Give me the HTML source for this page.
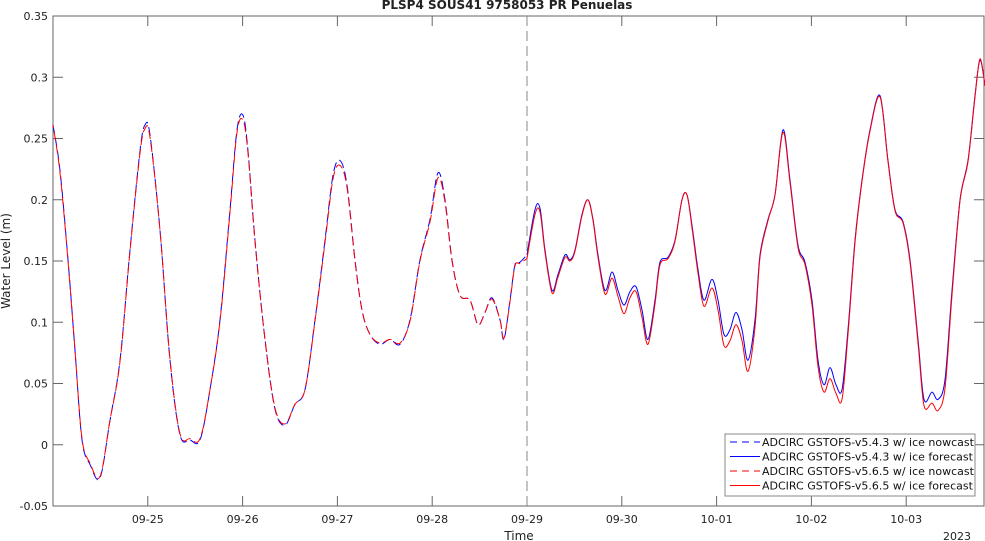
<!DOCTYPE html>
<html><head><meta charset="utf-8"><style>
html,body{margin:0;padding:0;background:#fff;}
svg{display:block;font-family:"DejaVu Sans","Liberation Sans",sans-serif;}
</style></head><body>
<svg id="chart" width="985" height="541" viewBox="0 0 985 541" xmlns="http://www.w3.org/2000/svg">
<rect x="0" y="0" width="985" height="541" fill="#fff"/>
<text x="507" y="9" text-anchor="middle" font-size="12" font-weight="bold" fill="#222">PLSP4 SOUS41 9758053 PR Penuelas</text>
<text transform="translate(10,261) rotate(-90)" text-anchor="middle" font-size="12" fill="#222">Water Level (m)</text>
<text x="519" y="540" text-anchor="middle" font-size="12" fill="#222">Time</text>
<text x="957" y="540" text-anchor="middle" font-size="11" fill="#222">2023</text>
<g id="axes"></g>
<g id="series"></g>
<g id="legend"></g>
</svg>
<script>
const xTickLabels = ["09-25","09-26","09-27","09-28","09-29","09-30","10-01","10-02","10-03"];
const yTickValues = [-0.05,0,0.05,0.1,0.15,0.2,0.25,0.3,0.35];
const yTickLabels = ["-0.05","0","0.05","0.1","0.15","0.2","0.25","0.3","0.35"];
const nowTimes = [0,0.074,0.158,0.232,0.306,0.39,0.496,0.601,0.707,0.812,0.918,0.97,1.023,1.129,1.234,1.34,1.445,1.551,1.656,1.762,1.867,1.941,2.004,2.057,2.131,2.236,2.342,2.447,2.553,2.658,2.764,2.869,2.954,3.027,3.101,3.186,3.259,3.344,3.449,3.555,3.66,3.766,3.871,3.977,4.061,4.135,4.209,4.293,4.399,4.483,4.557,4.631,4.715,4.757,4.821,4.873,4.926,5.0];
const nowBlue = [0.261,0.224,0.151,0.077,0.004,-0.016,-0.027,0.020,0.069,0.159,0.240,0.261,0.253,0.175,0.069,0.008,0.004,0.004,0.045,0.102,0.192,0.257,0.269,0.240,0.167,0.086,0.029,0.016,0.033,0.045,0.102,0.167,0.220,0.232,0.212,0.151,0.110,0.090,0.082,0.086,0.082,0.102,0.151,0.184,0.222,0.200,0.151,0.122,0.118,0.098,0.108,0.120,0.102,0.086,0.118,0.147,0.149,0.155];
const nowRed = [0.261,0.222,0.150,0.077,0.005,-0.015,-0.026,0.020,0.068,0.158,0.238,0.258,0.251,0.175,0.070,0.009,0.005,0.005,0.045,0.101,0.190,0.255,0.265,0.238,0.166,0.086,0.030,0.017,0.033,0.045,0.101,0.165,0.217,0.228,0.210,0.150,0.110,0.090,0.083,0.086,0.083,0.101,0.150,0.182,0.218,0.198,0.150,0.122,0.118,0.098,0.108,0.119,0.102,0.087,0.117,0.146,0.148,0.152];
const fcTimes = [5.0,5.084,5.137,5.19,5.264,5.327,5.401,5.454,5.506,5.58,5.643,5.696,5.749,5.823,5.897,5.96,6.023,6.086,6.15,6.213,6.276,6.35,6.403,6.487,6.561,6.635,6.688,6.741,6.804,6.867,6.951,7.015,7.078,7.141,7.205,7.268,7.331,7.405,7.458,7.542,7.616,7.70,7.774,7.859,7.932,8.006,8.07,8.133,8.196,8.259,8.323,8.386,8.46,8.534,8.618,8.724,8.808,8.882,8.966,9.04,9.125,9.188,9.272,9.335,9.409,9.483,9.568,9.652,9.726,9.778,9.831];
const fcBlue = [0.155,0.192,0.193,0.159,0.126,0.139,0.155,0.151,0.159,0.188,0.200,0.184,0.155,0.126,0.141,0.126,0.114,0.125,0.129,0.110,0.086,0.118,0.149,0.153,0.167,0.200,0.204,0.179,0.143,0.118,0.135,0.118,0.090,0.094,0.108,0.094,0.069,0.102,0.155,0.184,0.204,0.257,0.216,0.163,0.149,0.118,0.069,0.049,0.063,0.049,0.045,0.094,0.167,0.216,0.257,0.285,0.232,0.192,0.182,0.151,0.086,0.037,0.043,0.037,0.053,0.126,0.200,0.232,0.285,0.314,0.294];
const fcRed = [0.152,0.188,0.190,0.157,0.124,0.137,0.153,0.150,0.158,0.187,0.200,0.183,0.153,0.123,0.136,0.121,0.107,0.120,0.125,0.104,0.082,0.115,0.147,0.152,0.166,0.200,0.204,0.177,0.140,0.113,0.128,0.110,0.081,0.085,0.098,0.085,0.060,0.096,0.153,0.183,0.204,0.255,0.214,0.161,0.147,0.114,0.064,0.043,0.054,0.042,0.037,0.090,0.165,0.215,0.256,0.284,0.231,0.191,0.181,0.149,0.083,0.032,0.034,0.028,0.046,0.122,0.199,0.231,0.284,0.315,0.293];

const L=53,R=984,T=16,B=506, dayPx=94.8;
function xs(t){return L+t*dayPx;}
function ys(v){return B-(v+0.05)/0.4*(B-T);}
const NS="http://www.w3.org/2000/svg";
function mk(tag,attrs,parent){const e=document.createElementNS(NS,tag);for(const k in attrs)e.setAttribute(k,attrs[k]);parent.appendChild(e);return e;}
const ax=document.getElementById('axes');
const frame=mk('rect',{x:L,y:T,width:R-L,height:B-T,fill:'none',stroke:'#666','stroke-width':1},ax);


yTickValues.forEach((v,i)=>{
  const y=ys(v);
  const tk=mk('path',{d:`M${L} ${y}H${L+10}M${R} ${y}H${R-10}`,stroke:'#666','stroke-width':1},ax);
  
  
  const tx=mk('text',{x:L-5,y:y+4,'text-anchor':'end','font-size':11,fill:'#222'},ax);
  tx.textContent=yTickLabels[i];
  
  
});
xTickLabels.forEach((lab,i)=>{
  const x=xs(i+1);
  const tk=mk('path',{d:`M${x} ${B}V${B-10}M${x} ${T}V${T+10}`,stroke:'#666','stroke-width':1},ax);
  
  
  const tx=mk('text',{x:x,y:B+17,'text-anchor':'middle','font-size':11,fill:'#222'},ax);
  tx.textContent=lab;
  
  
});
const vl=mk('line',{x1:xs(5),x2:xs(5),y1:T,y2:B,stroke:'#888','stroke-width':1,'stroke-dasharray':'10,5'},ax);



const sg=document.getElementById('series');
function smoothPath(times,vals){
  const P=times.map((t,i)=>[xs(t),ys(vals[i])]);
  let d=`M${P[0][0].toFixed(1)},${P[0][1].toFixed(1)}`;
  for(let i=0;i<P.length-1;i++){
    const p0=P[Math.max(0,i-1)],p1=P[i],p2=P[i+1],p3=P[Math.min(P.length-1,i+2)];
    const c1=[p1[0]+(p2[0]-p0[0])/6,p1[1]+(p2[1]-p0[1])/6];
    const c2=[p2[0]-(p3[0]-p1[0])/6,p2[1]-(p3[1]-p1[1])/6];
    d+=`C${c1[0].toFixed(1)},${c1[1].toFixed(1)} ${c2[0].toFixed(1)},${c2[1].toFixed(1)} ${p2[0].toFixed(1)},${p2[1].toFixed(1)}`;
  }
  return d;
}
function line(times,vals,color,dash,off,name){
  const a={d:smoothPath(times,vals),fill:'none',stroke:color,'stroke-width':1};
  if(dash){a['stroke-dasharray']=dash;a['stroke-dashoffset']=off;}
  const p=mk('path',a,sg);
  
  
}
line(fcTimes,fcBlue,'#0000ff',null,0,'v543-forecast-line');
line(fcTimes,fcRed,'#ff0000',null,0,'v565-forecast-line');
line(nowTimes,nowBlue,'#0000ff','9,4',0,'v543-nowcast-line');
line(nowTimes,nowRed,'#ff0000','9,4',6,'v565-nowcast-line');

const lg=document.getElementById('legend');
const box=mk('rect',{x:725,y:434,width:250,height:62,fill:'#fff',stroke:'#888','stroke-width':1},lg);


const entries=[['#0000ff','7,5','ADCIRC GSTOFS-v5.4.3 w/ ice nowcast'],['#0000ff',null,'ADCIRC GSTOFS-v5.4.3 w/ ice forecast'],['#ff0000','7,5','ADCIRC GSTOFS-v5.6.5 w/ ice nowcast'],['#ff0000',null,'ADCIRC GSTOFS-v5.6.5 w/ ice forecast']];
entries.forEach((e,i)=>{
  const y=442+i*14.5;
  const a={x1:730,x2:760,y1:y,y2:y,stroke:e[0],'stroke-width':1};
  if(e[1])a['stroke-dasharray']=e[1];
  const ln=mk('line',a,lg);
  
  
  const tx=mk('text',{x:762,y:y+4,'font-size':11,fill:'#111'},lg);
  tx.textContent=e[2];
  
  
});
</script>
</body></html>
